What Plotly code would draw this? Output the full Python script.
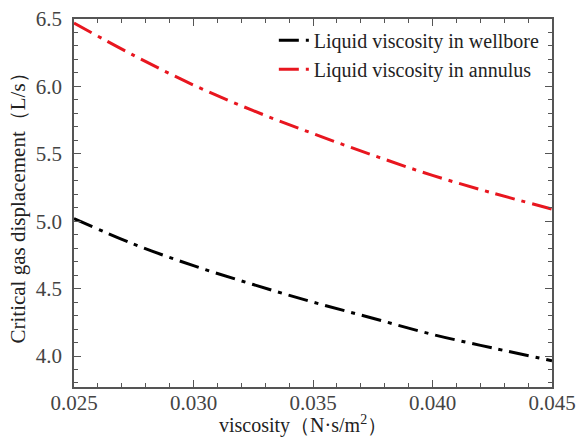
import plotly.graph_objects as go

viscosity = [0.025, 0.0275, 0.030, 0.0325, 0.035, 0.0375, 0.040, 0.0425, 0.045]
wellbore = [5.02, 4.83, 4.67, 4.53, 4.40, 4.28, 4.16, 4.06, 3.965]
annulus = [6.47, 6.23, 6.01, 5.82, 5.65, 5.49, 5.34, 5.21, 5.09]
names = ["Liquid viscosity in wellbore", "Liquid viscosity in annulus"]
x_title = "viscosity（N·s/m<sup>2</sup>）"
y_title = "Critical gas displacement（L/s）"

font_family = "Liberation Serif, Times New Roman, serif"
dash = "20px,7px,4px,7px"

fig = go.Figure()
fig.add_trace(go.Scatter(x=viscosity, y=wellbore, mode="lines", name=names[0],
                         line=dict(color="black", width=3, dash=dash, shape="spline")))
fig.add_trace(go.Scatter(x=viscosity, y=annulus, mode="lines", name=names[1],
                         line=dict(color="#e8161f", width=3, dash=dash, shape="spline")))

axis_common = dict(
    showline=True, linecolor="#555555", linewidth=1.5, mirror="allticks",
    ticks="inside", ticklen=7, tickwidth=1.2, tickcolor="#555555",
    showgrid=False, zeroline=False, automargin=False,
    tickfont=dict(family=font_family, size=21, color="#444444"),
)

fig.update_xaxes(
    range=[0.025, 0.045], tickvals=[0.025, 0.030, 0.035, 0.040, 0.045],
    ticktext=["0.025", "0.030", "0.035", "0.040", "0.045"],
    minor=dict(dtick=0.001, tick0=0.025, ticks="inside", ticklen=4, tickcolor="#555555", tickwidth=1.2),
    ticklabelstandoff=-4,
    **axis_common,
)
fig.update_yaxes(
    range=[3.77, 6.5], tickvals=[4.0, 4.5, 5.0, 5.5, 6.0, 6.5],
    ticktext=["4.0", "4.5", "5.0", "5.5", "6.0", "6.5"],
    minor=dict(dtick=0.1, tick0=4.0, ticks="inside", ticklen=4, tickcolor="#555555", tickwidth=1.2),
    ticklabelstandoff=6,
    title=dict(text=y_title, font=dict(family=font_family, size=21, color="#222222"), standoff=4),
    **axis_common,
)

fig.add_annotation(
    text=x_title, xref="paper", yref="paper", x=0.48, y=0, yanchor="bottom",
    yshift=-52, showarrow=False,
    font=dict(family=font_family, size=20, color="#222222"),
)

fig.update_layout(
    width=576, height=440,
    margin=dict(l=74, r=24, t=19, b=53),
    paper_bgcolor="white", plot_bgcolor="white",
    legend=dict(x=0.985, y=0.995, xanchor="right", yanchor="top",
                bgcolor="rgba(0,0,0,0)", font=dict(family=font_family, size=20, color="#222222"),
                itemwidth=30, tracegroupgap=0),
)

fig.write_html("out.html")
